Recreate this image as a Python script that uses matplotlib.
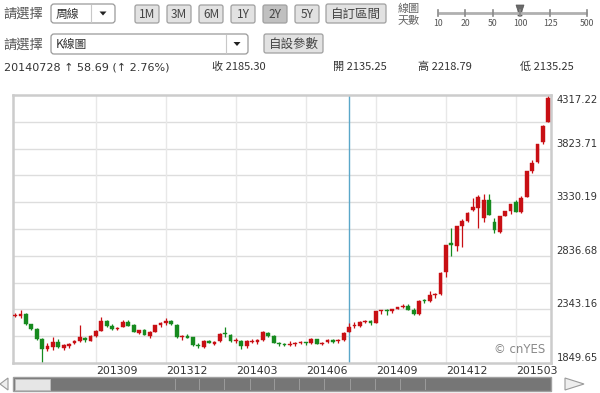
import matplotlib
matplotlib.use("Agg")
import matplotlib.pyplot as plt
from matplotlib.patches import Rectangle, FancyBboxPatch, Polygon
import numpy as np
import pandas as pd

plt.rcParams['font.family'] = ['Noto Sans CJK TC', 'DejaVu Sans']

# ---------------- data ----------------
week_start = "2013-05-20"
n_weeks = 100
opens = [2283, 2280, 2300, 2206, 2162, 2070, 1975, 2000, 2040, 1990,
         2008, 2030, 2052, 2080, 2055, 2096, 2145, 2235, 2190, 2160,
         2180, 2230, 2195, 2130, 2150, 2100, 2136, 2195, 2220, 2236,
         2200, 2085, 2100, 2085, 2012, 2000, 2050, 2020, 2050, 2117,
         2110, 2050, 2050, 2005, 2045, 2040, 2060, 2130, 2097, 2030,
         2020, 2015, 2020, 2035, 2035, 2030, 2070, 2026, 2040, 2060,
         2050, 2058, 2135.25, 2190, 2190, 2228, 2238, 2220, 2325, 2330,
         2330, 2350, 2366, 2375, 2340, 2303, 2425, 2420, 2478, 2485,
         2690, 2950, 2930, 3110, 3160, 3258, 3280, 3189, 3355, 3150,
         3060, 3206, 3250, 3336, 3236, 3380, 3620, 3700, 3880, 4072]
highs = [2314, 2334, 2310, 2212, 2175, 2080, 2030, 2093, 2070, 2022,
         2035, 2062, 2198, 2090, 2106, 2149, 2270, 2242, 2213, 2180,
         2242, 2241, 2211, 2157, 2160, 2143, 2204, 2223, 2260, 2249,
         2207, 2105, 2115, 2090, 2030, 2062, 2060, 2049, 2123, 2177,
         2120, 2077, 2060, 2058, 2070, 2070, 2146, 2135, 2105, 2040,
         2032, 2054, 2040, 2051, 2042, 2080, 2075, 2046, 2067, 2068,
         2073, 2134, 2218.79, 2224, 2234, 2248, 2243, 2330, 2342, 2346,
         2350, 2366, 2391, 2397, 2353, 2430, 2440, 2508, 2490, 2683,
         2940, 3091, 3108.6, 3180, 3240, 3369, 3400, 3406, 3406, 3183,
         3203.83, 3250, 3312, 3347, 3383, 3618, 3715, 3866, 4040, 4317.22]
lows = [2269, 2264, 2204, 2156, 2063, 1849.65, 1960, 1969, 1992, 1965,
        1987, 2020, 2040, 2040, 2050, 2092, 2140, 2185, 2154, 2156,
        2180, 2190, 2132, 2115, 2106, 2083, 2131, 2183, 2200, 2200,
        2080, 2060, 2076, 2010, 1984, 1990, 2030, 2015, 2045, 2090,
        2043, 2037, 1974, 1985, 2032, 2025, 2055, 2085, 2035, 2010,
        2002, 2009, 2002, 2020, 2013, 2025, 2023, 2012, 2032, 2033,
        2037, 2052, 2135.25, 2175, 2180, 2220, 2195, 2216, 2301, 2291,
        2310, 2345, 2360, 2340, 2290, 2290, 2400, 2410, 2450, 2480,
        2640, 2834, 2880, 2920, 3150, 3253, 3095, 3150, 3210, 3050,
        3050, 3200, 3220, 3240, 3230, 3375, 3600, 3690, 3870, 4069]
closes = [2288.53, 2300.59, 2210.90, 2162.04, 2073.10, 1979.21, 2007.20, 2039.49, 1992.65, 2010.85,
          2029.07, 2052.24, 2085.94, 2057.46, 2098.38, 2139.97, 2236.20, 2191.85, 2160.03, 2174.67,
          2228.15, 2193.78, 2132.95, 2149.56, 2106.13, 2135.83, 2196.38, 2220.50, 2237.11, 2204.39,
          2084.79, 2101.25, 2083.14, 2013.30, 2004.95, 2054.39, 2033.08, 2044.50, 2115.85, 2113.69,
          2056.30, 2057.91, 2004.34, 2047.62, 2046.59, 2058.99, 2130.54, 2097.75, 2036.52, 2026.36,
          2011.13, 2026.50, 2034.57, 2039.21, 2029.76, 2070.71, 2026.67, 2036.51, 2059.38, 2046.96,
          2059.08, 2126.61, 2185.30, 2194.42, 2226.73, 2240.81, 2217.20, 2326.43, 2331.95, 2329.45,
          2347.72, 2363.87, 2374.54, 2341.18, 2302.28, 2420.18, 2418.17, 2478.82, 2486.79, 2682.83,
          2937.65, 2938.17, 3108.60, 3157.60, 3234.68, 3285.41, 3376.50, 3351.76, 3210.36, 3075.91,
          3203.83, 3246.91, 3310.30, 3241.19, 3372.91, 3617.32, 3691.10, 3863.93, 4034.31, 4287.30]
y_min, y_max = 1849.65, 4317.22
selected_week = "2014-07-28"
tick_labels = ["201309", "201312", "201403", "201406", "201409", "201412", "201503"]
range_buttons = ["1M", "3M", "6M", "1Y", "2Y", "5Y"]
active_range = "2Y"
slider_labels = ["10", "20", "50", "100", "125", "500"]
active_slider = "100"
period_choice = "周線"
chart_choice = "K線圖"

# ---------------- derived ----------------
dates = pd.date_range(week_start, periods=n_weeks, freq="7D")
o = np.array(opens); h = np.array(highs); l = np.array(lows); c = np.array(closes)
x = np.arange(n_weeks)
months = dates.strftime("%Y%m")
tick_idx = [int(np.where(months == lab)[0][0]) for lab in tick_labels]
sel = int(np.where(dates == pd.Timestamp(selected_week))[0][0])

W, H = 600, 393
fig = plt.figure(figsize=(W / 100, H / 100), dpi=100)
fig.patch.set_facecolor("white")

ui = fig.add_axes([0, 0, 1, 1], zorder=0)
ui.set_xlim(0, W); ui.set_ylim(H, 0); ui.axis("off")

TXT = "#333333"

def button(x0, y0, w, hh, label, fc="#e2e2e2", fs=8.5):
    ui.add_patch(FancyBboxPatch((x0, y0), w, hh, boxstyle="round,pad=0,rounding_size=2",
                                fc=fc, ec="#a0a0a0", lw=0.9))
    ui.text(x0 + w / 2, y0 + hh / 2 + 0.5, label, ha="center", va="center", fontsize=fs, color="#444444")

def dropdown(x0, y0, w, hh, label, div):
    ui.add_patch(FancyBboxPatch((x0, y0), w, hh, boxstyle="round,pad=0,rounding_size=3",
                                fc="white", ec="#9a9a9a", lw=0.9))
    ui.plot([div, div], [y0 + 1, y0 + hh - 1], color="#c8c8c8", lw=0.8)
    ui.text(x0 + 5, y0 + hh / 2 + 0.5, label, ha="left", va="center", fontsize=8.5, color=TXT)
    cx = (div + x0 + w) / 2; cy = y0 + hh / 2
    ui.add_patch(Polygon([[cx - 3.5, cy - 2], [cx + 3.5, cy - 2], [cx, cy + 2]], closed=True, fc="#222222", ec="none"))

# row 1
ui.text(3, 14, "請選擇", ha="left", va="center", fontsize=9.5, color="#555555")
dropdown(51, 4, 64, 19, period_choice, 91)
bx = [135, 167, 199, 231, 263, 295]
for xx, lab in zip(bx, range_buttons):
    button(xx, 5, 24, 18, lab, fc="#c0c0c0" if lab == active_range else "#e2e2e2")
button(326, 4, 60, 19, "自訂區間", fs=9)
ui.text(398, 9, "線圖", ha="left", va="center", fontsize=8, color="#666666")
ui.text(398, 20, "天數", ha="left", va="center", fontsize=8, color="#666666")
sx = [438, 465, 493, 520, 550, 587]
ui.plot([sx[0], sx[-1]], [13, 13], color="#b0b0b0", lw=2, solid_capstyle="butt")
for xx, lab in zip(sx, slider_labels):
    ui.plot([xx, xx], [10, 16], color="#8a8a8a", lw=1.2)
    ui.text(xx, 24, lab, ha="center", va="center", fontsize=6.3, color="#555555")
    if lab == active_slider:
        ui.add_patch(Polygon([[xx - 4, 5], [xx + 4, 5], [xx + 2, 11], [xx + 2, 16], [xx - 2, 16], [xx - 2, 11]],
                             closed=True, fc="#6a6a6a", ec="#555555", lw=0.5))

# row 2
ui.text(3, 45, "請選擇", ha="left", va="center", fontsize=9.5, color="#555555")
dropdown(51, 34, 197, 20, chart_choice, 226)
button(264, 34, 59, 19, "自設參數", fs=9)

# row 3 (selected week summary)
chg = c[sel] - c[sel - 1]
pct = chg / c[sel - 1] * 100
ui.text(4, 67, f"{dates[sel].strftime('%Y%m%d')} ↑ {chg:.2f} (↑ {pct:.2f}%)", ha="left", va="center",
        fontsize=8, color=TXT, family=["DejaVu Sans"])
ui.text(212, 67, f"收 {c[sel]:.2f}", ha="left", va="center", fontsize=8, color=TXT)
ui.text(333, 67, f"開 {o[sel]:.2f}", ha="left", va="center", fontsize=8, color=TXT)
ui.text(418, 67, f"高 {h[sel]:.2f}", ha="left", va="center", fontsize=8, color=TXT)
ui.text(520, 67, f"低 {l[sel]:.2f}", ha="left", va="center", fontsize=8, color=TXT)

# scrollbar
ui.add_patch(Rectangle((13, 377), 538, 14, fc="#767676", ec="#a0a0a0", lw=1))
ui.add_patch(Rectangle((15, 378.5), 35, 11, fc="#e6e6e6", ec="#bdbdbd", lw=0.6))
for xx in [175, 199, 224, 250, 274, 299, 324, 350, 375, 400, 425]:
    ui.plot([xx, xx], [379, 389], color="#9c9c9c", lw=0.7)
ui.add_patch(Polygon([[8, 378], [0, 384], [8, 390]], closed=True, fc="#eeeeee", ec="#9a9a9a", lw=0.8))
ui.add_patch(Polygon([[565, 378], [584, 384], [565, 390]], closed=True, fc="#eeeeee", ec="#9a9a9a", lw=0.8))

# ---------------- chart ----------------
ax = fig.add_axes([13 / W, 1 - 363 / H, 538 / W, 268 / H], zorder=2)
ax.set_facecolor("white")
ax.set_xlim(-0.4, 99.5)
ax.set_ylim(y_min, y_max)
for s in ax.spines.values():
    s.set_color("#cccccc"); s.set_linewidth(1.8)
ax.set_xticks([]); ax.set_yticks([])

for yv in np.linspace(y_min, y_max, 11)[1:-1]:
    ax.axhline(yv, color="#dddddd", lw=1.0, zorder=0)
for ti in tick_idx:
    ax.axvline(ti, color="#e8e8e8", lw=1.0, zorder=0)
ax.axvline(sel, color="#5aa7c9", lw=1.0, zorder=1)

up = c >= o
cols = np.where(up, "#c80f14", "#168a1e")
ax.vlines(x, l, h, colors=cols, lw=0.9, zorder=2)
body = np.maximum(np.abs(c - o), 9.0)
ax.bar(x, body, bottom=np.minimum(o, c), width=0.7, color=cols, edgecolor=cols, lw=0.3, zorder=3)

for ti, lab in zip(tick_idx, tick_labels):
    ax.text(ti, -0.012, lab, transform=ax.get_xaxis_transform(), ha="left", va="top",
            fontsize=7.8, color=TXT, family=["DejaVu Sans"])
yl = np.linspace(y_min, y_max, 6)
for k, yv in enumerate(yl):
    ax.text(1.01, yv, f"{yv:.2f}", transform=ax.get_yaxis_transform(), ha="left",
            va="top" if k == len(yl) - 1 else "bottom", fontsize=7.2, color=TXT, family=["DejaVu Sans"],
            clip_on=False)
ax.text(0.99, 0.025, "© cnYES", transform=ax.transAxes, ha="right", va="bottom", fontsize=8.5,
        color="#8a8a8a", family=["DejaVu Sans"])

fig.savefig("out.png", dpi=100, facecolor="white")
